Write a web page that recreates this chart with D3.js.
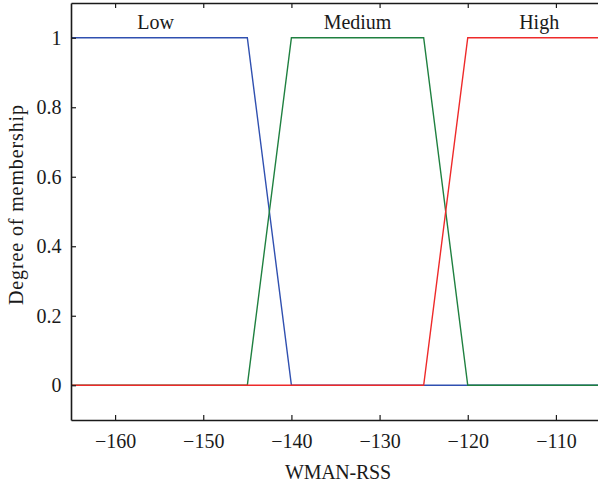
<!DOCTYPE html>
<html><head><meta charset="utf-8">
<script src="https://cdn.jsdelivr.net/npm/d3@7"></script>
<style>body{margin:0;background:#fff}svg{display:block}text{font-family:"Liberation Serif","DejaVu Serif",serif;fill:#1a1a1a}</style>
</head><body><svg id="c" width="598" height="484"></svg>
<script>
const xTicks = [-160, -150, -140, -130, -120, -110];
const yTicks = [0, 0.2, 0.4, 0.6, 0.8, 1];
const seriesNames = ["Low", "Medium", "High"];
const lowX = [-165, -145, -140, -105];
const lowY = [1, 1, 0, 0];
const mediumX = [-165, -145, -140, -125, -120, -105];
const mediumY = [0, 0, 1, 1, 0, 0];
const highX = [-165, -125, -120, -105];
const highY = [0, 0, 1, 1];
const labelX = [-155.4, -132.5, -111.9];
const colors = ["#3050b0", "#1f8040", "#ee2a2a"];

const svg = d3.select("#c");
const x = d3.scaleLinear().domain([-165, -105]).range([71, 600]);
const y = d3.scaleLinear().domain([-0.1, 1.1]).range([420, 3]);

const series = [
  {name: seriesNames[0], xs: lowX, ys: lowY, c: colors[0]},
  {name: seriesNames[1], xs: mediumX, ys: mediumY, c: colors[1]},
  {name: seriesNames[2], xs: highX, ys: highY, c: colors[2]}
];
const line = d3.line().x(d => x(d[0])).y(d => y(d[1]));
series.forEach(s => {
  svg.append("path").datum(s.xs.map((v, i) => [v, s.ys[i]]))
    .attr("d", line).attr("fill", "none").attr("stroke", s.c).attr("stroke-width", 1.4);
});

// axes
const fs = "20px";
const gBottom = svg.append("g").attr("transform", "translate(0,420)")
  .call(d3.axisBottom(x).tickValues(xTicks).tickSizeInner(-5).tickSizeOuter(0).tickPadding(14).tickFormat(d => "\u2212" + Math.abs(d)));
const gTop = svg.append("g").attr("transform", "translate(0,3)")
  .call(d3.axisTop(x).tickValues(xTicks).tickSizeInner(-5).tickSizeOuter(0).tickFormat(""));
const gLeft = svg.append("g").attr("transform", "translate(71,0)")
  .call(d3.axisLeft(y).tickValues(yTicks).tickSizeInner(-5).tickSizeOuter(0).tickPadding(9.5).tickFormat(d => d === 0 ? "0" : d === 1 ? "1" : d3.format(".1f")(d)));
[gBottom, gTop, gLeft].forEach(g => {
  g.select(".domain").attr("stroke", "#1a1a1a").attr("stroke-width", 1.6);
  g.selectAll(".tick line").attr("stroke", "#1a1a1a").attr("stroke-width", 1.2);
  g.selectAll(".tick text").attr("font-family", "Liberation Serif").attr("font-size", fs).attr("fill", "#1a1a1a");
});

// series labels
series.forEach((s, i) => {
  svg.append("text").attr("x", x(labelX[i])).attr("y", 29).attr("text-anchor", "middle")
    .attr("font-size", fs).text(s.name);
});

svg.append("text").attr("x", 338).attr("y", 479).attr("text-anchor", "middle")
  .attr("font-size", fs).attr("textLength", 106).text("WMAN-RSS");
svg.append("text").attr("transform", "translate(23,205) rotate(-90)").attr("text-anchor", "middle")
  .attr("font-size", fs).attr("textLength", 200).text("Degree of membership");
</script></body></html>
